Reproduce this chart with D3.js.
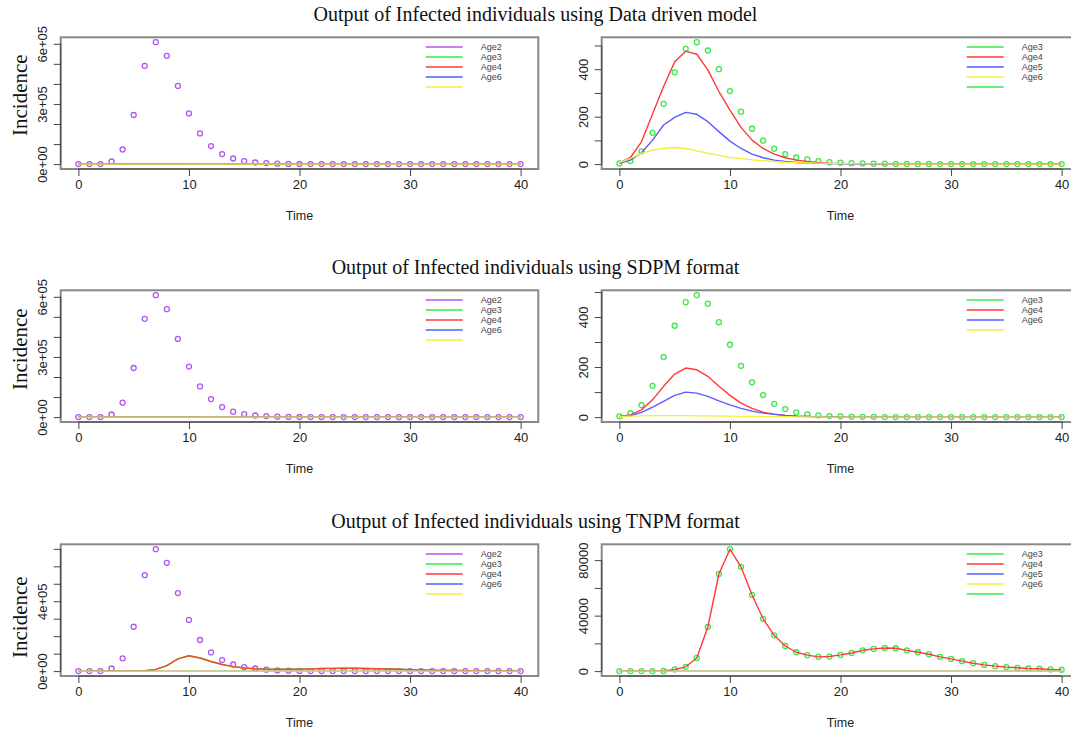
<!DOCTYPE html>
<html>
<head>
<meta charset="utf-8">
<script src="https://d3js.org/d3.v7.min.js"></script>
<style>
  body { margin: 0; background: #fff; }
  svg { display: block; }
  .axis text { font-family: "Liberation Sans", Arial, sans-serif; font-size: 13px; fill: #222; }
  .axis line, .axis path { stroke: #444; stroke-width: 1; }
  .xlab { font-family: "Liberation Sans", Arial, sans-serif; font-size: 12.5px; fill: #222; }
  .ylab { font-family: "Liberation Serif", "Times New Roman", serif; font-size: 21px; fill: #111; }
  .title { font-family: "Liberation Serif", "Times New Roman", serif; font-size: 20px; fill: #111; }
  .legend text { font-family: "Liberation Sans", Arial, sans-serif; font-size: 9px; fill: #444; }
</style>
</head>
<body>
<svg id="chart" width="1071" height="732"></svg>
<script>
// time steps
const times = [0, 1, 2, 3, 4, 5, 6, 7, 8, 9, 10, 11, 12, 13, 14, 15, 16, 17, 18, 19, 20,
  21, 22, 23, 24, 25, 26, 27, 28, 29, 30, 31, 32, 33, 34, 35, 36, 37, 38, 39, 40];

// Data driven model
const ddAge2 = [0, 0, 0, 13000, 73000, 245000, 490000, 608000, 540000, 390000, 253000, 153000, 90000, 50000,
  28000, 15000, 8000, 5000, 2000, 1000, 500, 300, 200, 100, 100, 50, 0, 0, 0, 0, 0, 0, 0, 0, 0, 0, 0, 0, 0, 0, 0];
const ddAge3 = [3, 13, 54, 132, 254, 387, 486, 514, 479, 400, 308, 221, 149, 99, 65, 42, 28, 20, 13, 8, 6,
  4, 3, 2, 2, 1, 1, 1, 1, 0, 0, 0, 0, 0, 0, 0, 0, 0, 0, 0, 0];
const ddAge4 = [5, 28, 94, 211, 327, 431, 476, 463, 397, 306, 228, 155, 101, 66, 42, 27, 17, 11, 7, 4, 3,
  2, 1, 1, 1, 0, 0, 0, 0, 0, 0, 0, 0, 0, 0, 0, 0, 0, 0, 0, 0];
const ddAge5 = [3, 17, 48, 101, 165, 197, 218, 210, 179, 137, 97, 66, 42, 27, 17, 11, 7, 4, 3, 2, 1,
  1, 0, 0, 0, 0, 0, 0, 0, 0, 0, 0, 0, 0, 0, 0, 0, 0, 0, 0, 0];
const ddAge6 = [6, 24, 45, 59, 66, 70, 66, 56, 46, 37, 28, 23, 18, 14, 11, 8, 7, 6, 4, 3, 2,
  2, 1, 1, 1, 0, 0, 0, 0, 0, 0, 0, 0, 0, 0, 0, 0, 0, 0, 0, 0];

// SDPM format
const sdAge2 = [0, 0, 0, 13000, 72000, 245000, 490000, 608000, 538000, 390000, 252000, 153000, 90000, 50000,
  27000, 15000, 8000, 5000, 2000, 1000, 500, 300, 200, 100, 100, 50, 0, 0, 0, 0, 0, 0, 0, 0, 0, 0, 0, 0, 0, 0, 0];
const sdAge3 = [3, 16, 48, 125, 240, 365, 459, 487, 453, 379, 289, 205, 139, 88, 53, 32, 19, 11, 7, 4, 3,
  1, 1, 1, 0, 0, 0, 0, 0, 0, 0, 0, 0, 0, 0, 0, 0, 0, 0, 0, 0];
const sdAge4 = [3, 9, 29, 69, 123, 172, 196, 189, 163, 123, 87, 56, 35, 20, 12, 7, 4, 3, 1, 1, 0,
  0, 0, 0, 0, 0, 0, 0, 0, 0, 0, 0, 0, 0, 0, 0, 0, 0, 0, 0, 0];
const sdAge6 = [2, 5, 19, 40, 63, 87, 100, 96, 83, 65, 49, 35, 24, 16, 11, 7, 4, 3, 1, 1, 0,
  0, 0, 0, 0, 0, 0, 0, 0, 0, 0, 0, 0, 0, 0, 0, 0, 0, 0, 0, 0];
const sdExtra = [2, 4, 5, 6, 6, 6, 6, 5, 5, 4, 4, 3, 3, 2, 2, 2, 1, 1, 1, 0, 0,
  0, 0, 0, 0, 0, 0, 0, 0, 0, 0, 0, 0, 0, 0, 0, 0, 0, 0, 0, 0];

// TNPM format
const tnAge2 = [0, 0, 0, 15000, 73000, 254000, 549000, 698000, 620000, 447000, 293000, 178000, 107000, 63000,
  38000, 23000, 15000, 8000, 4000, 2000, 1000, 500, 300, 200, 100, 0, 0, 0, 0, 0, 0, 0, 0, 0, 0, 0, 0, 0, 0, 0, 0];
const tnAge3 = [0, 0, 0, 0, 100, 1200, 3100, 9500, 31800, 70000, 87900, 75200, 54900, 37700, 25800, 18100,
  13600, 11500, 10300, 10500, 11700, 13100, 15000, 16000, 16700, 16500, 15000, 13600, 12200, 10300, 8800,
  7200, 5700, 4500, 3600, 2900, 2400, 1900, 1700, 1200, 1000];
const tnAge4 = [0, 0, 0, 0, 100, 1200, 3100, 9500, 31800, 70000, 87900, 75200, 54900, 37700, 25800, 18100,
  13600, 11500, 10300, 10500, 11700, 13100, 15000, 16000, 16700, 16500, 15000, 13600, 12200, 10300, 8800,
  7200, 5700, 4500, 3600, 2900, 2400, 1900, 1700, 1200, 1000];
const tnAge5 = [0, 0, 0, 0, 0, 0, 0, 0, 0, 0, 0, 0, 0, 0, 0, 0, 0, 0, 0, 0, 0,
  0, 0, 0, 0, 0, 0, 0, 0, 0, 0, 0, 0, 0, 0, 0, 0, 0, 0, 0, 0];
const tnAge6 = [0, 0, 0, 0, 0, 0, 0, 0, 0, 0, 0, 0, 0, 0, 0, 0, 0, 0, 0, 0, 0,
  0, 0, 0, 0, 0, 0, 0, 0, 0, 0, 0, 0, 0, 0, 0, 0, 0, 0, 0, 0];

// ticks and legends
const xTicks = [0, 10, 20, 30, 40];
const bigTicks6 = [0, 100000, 200000, 300000, 400000, 500000, 600000];
const bigLabels6 = [0, 300000, 600000];
const bigTicks7 = [0, 100000, 200000, 300000, 400000, 500000, 600000, 700000];
const bigLabels7 = [0, 400000];
const smallTicks = [0, 100, 200, 300, 400, 500];
const smallLabels = [0, 200, 400];
const tnTicks = [0, 20000, 40000, 60000, 80000];
const tnLabels = [0, 40000, 80000];
const leftLegendLabels = ["Age2", "Age3", "Age4", "Age6"];
const rightLegendLabels = ["Age3", "Age4", "Age5", "Age6"];
const sdRightLegendLabels = ["Age3", "Age4", "Age6"];
const titles = [
  "Output of Infected individuals using Data driven model",
  "Output of Infected individuals using SDPM format",
  "Output of Infected individuals using TNPM format"
];

const col = { purple: "#b455f2", green: "#3ae84a", red: "#ff3a3a", blue: "#5a5cff", yellow: "#f2ee3c" };

const LEFT_X = 60.7, RIGHT_X = 601.7, BOX_W = 477.6, BOX_H = 131.7;
const ROW_TOP = [37.3, 290.3, 544.3];
const YLAB_SHIFT = [-8, -7, 7];

const svg = d3.select("#chart");

function sci(v) {
  if (v === 0) return "0e+00";
  const e = Math.floor(Math.log10(v));
  return (v / Math.pow(10, e)) + "e+" + String(e).padStart(2, "0");
}

const panels = [
  { row: 0, x0: LEFT_X, points: ddAge2, pcol: col.purple,
    lines: [[ddAge3, col.green], [ddAge4, col.red], [ddAge5, col.blue], [ddAge6, col.yellow]],
    ticks: bigTicks6, labels: bigLabels6, fmt: sci,
    legCols: [col.purple, col.green, col.red, col.blue, col.yellow], legLabels: leftLegendLabels },
  { row: 0, x0: RIGHT_X, points: ddAge3, pcol: col.green,
    lines: [[ddAge4, col.red], [ddAge5, col.blue], [ddAge6, col.yellow]],
    ticks: smallTicks, labels: smallLabels, fmt: d3.format("d"),
    legCols: [col.green, col.red, col.blue, col.yellow, col.green], legLabels: rightLegendLabels },
  { row: 1, x0: LEFT_X, points: sdAge2, pcol: col.purple,
    lines: [[sdAge3, col.green], [sdAge4, col.red], [sdAge6, col.blue], [sdExtra, col.yellow]],
    ticks: bigTicks6, labels: bigLabels6, fmt: sci,
    legCols: [col.purple, col.green, col.red, col.blue, col.yellow], legLabels: leftLegendLabels },
  { row: 1, x0: RIGHT_X, points: sdAge3, pcol: col.green,
    lines: [[sdAge4, col.red], [sdAge6, col.blue], [sdExtra, col.yellow]],
    ticks: smallTicks, labels: smallLabels, fmt: d3.format("d"),
    legCols: [col.green, col.red, col.blue, col.yellow], legLabels: sdRightLegendLabels },
  { row: 2, x0: LEFT_X, points: tnAge2, pcol: col.purple,
    lines: [[tnAge3, col.green], [tnAge4, "#f04a28"], [tnAge5, col.blue], [tnAge6, col.yellow]],
    ticks: bigTicks7, labels: bigLabels7, fmt: sci,
    legCols: [col.purple, col.green, col.red, col.blue, col.yellow], legLabels: leftLegendLabels },
  { row: 2, x0: RIGHT_X, points: tnAge3, pcol: col.green,
    lines: [[tnAge4, col.red], [tnAge5, col.blue], [tnAge6, col.yellow]],
    ticks: tnTicks, labels: tnLabels, fmt: d3.format("d"),
    legCols: [col.green, col.red, col.blue, col.yellow, col.green], legLabels: rightLegendLabels }
];

// titles
titles.forEach((t, i) => {
  svg.append("text").attr("class", "title")
    .attr("x", 535.5).attr("y", ROW_TOP[i] - 16)
    .attr("text-anchor", "middle").text(t);
});

panels.forEach(p => {
  const top = ROW_TOP[p.row];
  const g = svg.append("g");

  // R style 4% padding on both axes
  const [t0, t1] = d3.extent(times);
  const tp = 0.04 * (t1 - t0);
  const x = d3.scaleLinear().domain([t0 - tp, t1 + tp]).range([p.x0, p.x0 + BOX_W]);
  const yMax = d3.max(p.points);
  const y = d3.scaleLinear().domain([-0.04 * yMax, 1.04 * yMax]).range([top + BOX_H, top]);

  // points first, lines drawn after like lines()
  g.selectAll(".pt")
    .data(p.points)
    .join("circle")
    .attr("class", "pt")
    .attr("cx", (d, i) => x(times[i]))
    .attr("cy", d => y(d))
    .attr("r", 2.5)
    .attr("fill", "none")
    .attr("stroke", p.pcol)
    .attr("stroke-width", 1.3);

  const line = d3.line().x((d, i) => x(times[i])).y(d => y(d));
  p.lines.forEach(([vals, c]) => {
    g.append("path")
      .attr("d", line(vals))
      .attr("fill", "none")
      .attr("stroke", c)
      .attr("stroke-width", 1.4)
      .attr("stroke-linejoin", "round");
  });

  // box
  g.append("rect")
    .attr("x", p.x0).attr("y", top)
    .attr("width", BOX_W).attr("height", BOX_H)
    .attr("fill", "none").attr("stroke", "#888").attr("stroke-width", 2);

  // x axis
  const xa = g.append("g").attr("class", "axis")
    .attr("transform", `translate(0,${top + BOX_H})`)
    .call(d3.axisBottom(x).tickValues(xTicks).tickSize(7).tickSizeOuter(0).tickPadding(5));
  xa.select(".domain").attr("d", `M${x(xTicks[0])},0H${x(xTicks[xTicks.length - 1])}`);
  xa.selectAll("text").attr("dy", "0.71em").attr("y", 11);

  // y axis
  const ya = g.append("g").attr("class", "axis")
    .attr("transform", `translate(${p.x0},0)`)
    .call(d3.axisLeft(y).tickValues(p.ticks).tickSize(7).tickSizeOuter(0)
      .tickFormat(v => p.labels.includes(v) ? p.fmt(v) : ""));
  ya.select(".domain").attr("d", `M0,${y(p.ticks[0])}V${y(p.ticks[p.ticks.length - 1])}`);
  ya.selectAll("text")
    .attr("x", null).attr("dy", null)
    .attr("text-anchor", "middle")
    .attr("transform", "translate(-13.5,0) rotate(-90)");

  g.append("text").attr("class", "xlab")
    .attr("x", p.x0 + BOX_W / 2).attr("y", top + BOX_H + 50.5)
    .attr("text-anchor", "middle").text("Time");

  if (p.x0 === LEFT_X) {
    g.append("text").attr("class", "ylab")
      .attr("transform", `translate(26.5,${top + BOX_H / 2 + YLAB_SHIFT[p.row]}) rotate(-90)`)
      .attr("text-anchor", "middle").text("Incidence");
  }

  // legend
  const leg = g.append("g").attr("class", "legend");
  leg.selectAll("line")
    .data(p.legCols)
    .join("line")
    .attr("x1", p.x0 + 365).attr("x2", p.x0 + 402)
    .attr("y1", (d, i) => top + 9.6 + i * 10)
    .attr("y2", (d, i) => top + 9.6 + i * 10)
    .attr("stroke", d => d)
    .attr("stroke-opacity", 0.75)
    .attr("stroke-width", 2);
  leg.selectAll("text")
    .data(p.legLabels)
    .join("text")
    .attr("x", p.x0 + 420)
    .attr("y", (d, i) => top + 9.6 + i * 10)
    .attr("dy", "0.35em")
    .text(d => d);
});
</script>
</body>
</html>
